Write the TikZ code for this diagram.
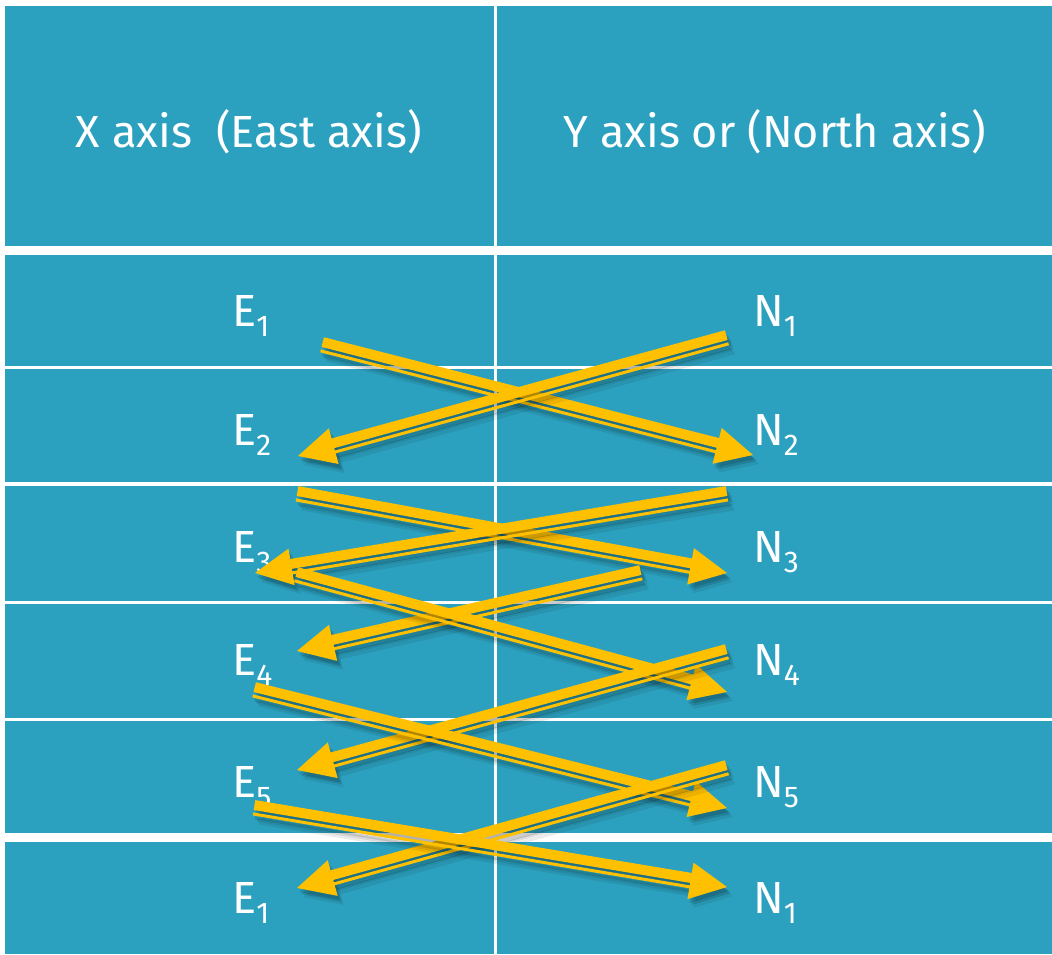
\documentclass[tikz,border=0pt]{standalone}
\usepackage{fontspec}
\setmainfont{Fira Sans}
\usetikzlibrary{calc}

\definecolor{cellteal}{HTML}{2CA1BF}
\definecolor{gold}{HTML}{FFC000}

\tikzset{
  cell/.style={fill=cellteal, draw=none},
  headtext/.style={text=white, font=\fontsize{45}{54}\selectfont, inner sep=0pt, anchor=base},
  axlabel/.style={text=white, font=\fontsize{45}{54}\selectfont, inner sep=0pt, anchor=base west},
}

% lowered index digit
\newcommand\idx[1]{\raisebox{-10pt}{\fontsize{30}{30}\selectfont #1}}

% one gold arrow drawn in a local frame: x along the arrow, y towards the lower side
\newcommand\arrowshape[1]{%
  \fill[#1] (0,-8) rectangle (\glen-36,2);
  \fill[#1] (0,4.5) rectangle (\glen-36,7.5);
  \fill[#1] (\glen,0) -- (\glen-37,-18.5) -- (\glen-37,18.5) -- cycle;
}

% thick-thin gold arrow with a soft drop shadow, from coordinate #1 to coordinate #2
\newcommand\goldarrow[2]{%
  \pgfpointanchor{#1}{center}\pgfgetlastxy\gax\gay
  \pgfpointanchor{#2}{center}\pgfgetlastxy\gbx\gby
  \pgfmathsetmacro\gang{atan2(\gby-\gay,\gbx-\gax)}
  \pgfmathsetmacro\glen{veclen(\gbx-\gax,\gby-\gay)}
  \pgfmathsetmacro\gsgn{ifthenelse(\gbx<\gax,-1,1)}
  \foreach \sx/\sy/\op in {6/9/0.08, 4/6/0.13, 2/4/0.13} {
    \begin{scope}[shift={(#1)}, shift={(\sx,\sy)}, rotate=\gang, yscale=\gsgn]
      \arrowshape{black, opacity=\op}
    \end{scope}
  }
  \begin{scope}[shift={(#1)}, rotate=\gang, yscale=\gsgn]
    \arrowshape{gold}
  \end{scope}
}

\begin{document}
\begin{tikzpicture}[x=1pt, y=-1pt]
  \useasboundingbox (0,0) rectangle (1052,954);
  \fill[white] (0,0) rectangle (1052,954);

  % table cells: header row and six data rows, two columns
  \foreach \ya/\yb in {6/245.5, 255/366.3, 369.3/482.3, 485.5/600.5, 603.5/717.5, 720.5/833, 842/954} {
    \fill[cell] (5,\ya) rectangle (493.5,\yb);
    \fill[cell] (496.5,\ya) rectangle (1052,\yb);
  }

  % column headings
  \node[headtext] (hx) at (249,147) {X axis\ \ (East axis)};
  \node[headtext] (hy) at (774.5,147) {Y axis or (North axis)};

  % coordinate labels
  \node[axlabel] (e1)  at (232,326) {E\idx{1}};
  \node[axlabel] (e2)  at (232,445) {E\idx{2}};
  \node[axlabel] (e3)  at (232,562) {E\idx{3}};
  \node[axlabel] (e4)  at (232,675) {E\idx{4}};
  \node[axlabel] (e5)  at (232,797) {E\idx{5}};
  \node[axlabel] (e1b) at (232,913) {E\idx{1}};
  \node[axlabel] (n1)  at (753,326) {N\idx{1}};
  \node[axlabel] (n2)  at (753,445) {N\idx{2}};
  \node[axlabel] (n3)  at (753,562) {N\idx{3}};
  \node[axlabel] (n4)  at (753,675) {N\idx{4}};
  \node[axlabel] (n5)  at (753,797) {N\idx{5}};
  \node[axlabel] (n1b) at (753,913) {N\idx{1}};

  % arrow end points
  \coordinate (a1s) at (322,345);  \coordinate (a1e) at (753,455);
  \coordinate (a2s) at (727,338);  \coordinate (a2e) at (298,456);
  \coordinate (a3s) at (297,494);  \coordinate (a3e) at (727,573);
  \coordinate (a4s) at (727,494);  \coordinate (a4e) at (255,573);
  \coordinate (a5s) at (641,573);  \coordinate (a5e) at (297,651);
  \coordinate (a6s) at (296,575);  \coordinate (a6e) at (727,692);
  \coordinate (a7s) at (727,652);  \coordinate (a7e) at (297,770);
  \coordinate (a8s) at (254,690);  \coordinate (a8e) at (727,808);
  \coordinate (a9s) at (727,768);  \coordinate (a9e) at (297,888);
  \coordinate (a10s) at (254,808); \coordinate (a10e) at (727,887);

  % cross-multiplication arrows
  \goldarrow{a1s}{a1e}
  \goldarrow{a2s}{a2e}
  \goldarrow{a3s}{a3e}
  \goldarrow{a4s}{a4e}
  \goldarrow{a5s}{a5e}
  \goldarrow{a6s}{a6e}
  \goldarrow{a7s}{a7e}
  \goldarrow{a8s}{a8e}
  \goldarrow{a9s}{a9e}
  \goldarrow{a10s}{a10e}
\end{tikzpicture}
\end{document}
